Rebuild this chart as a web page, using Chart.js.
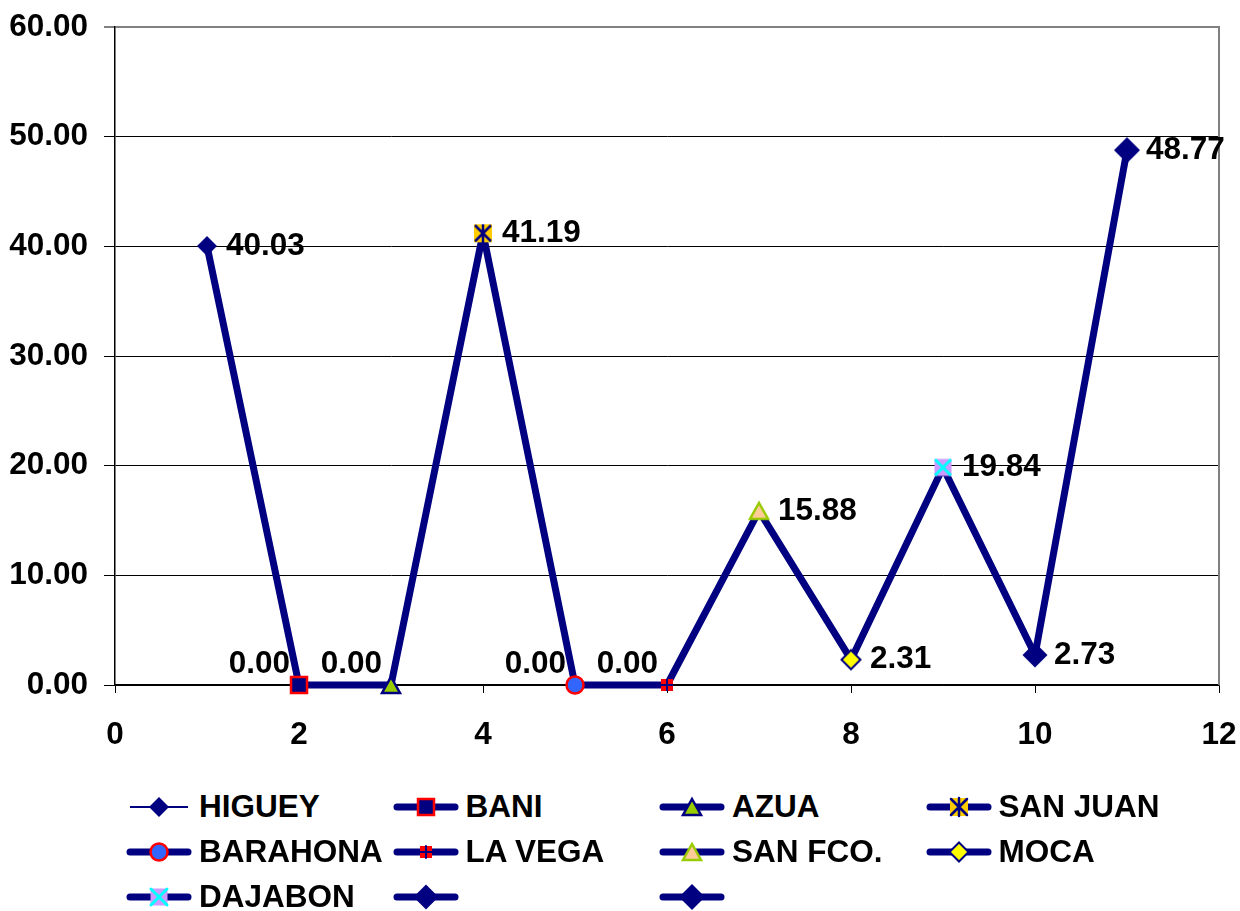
<!DOCTYPE html>
<html>
<head>
<meta charset="utf-8">
<script src="https://cdn.jsdelivr.net/npm/chart.js@4.4.0/dist/chart.umd.min.js"></script>
<style>
body{margin:0;background:#fff;}
#wrap{position:relative;width:1240px;height:911px;overflow:hidden;font-family:"Liberation Sans",Arial,sans-serif;}
#c{position:absolute;left:0;top:0;}
#legend{position:absolute;left:126px;top:784px;display:grid;grid-template-columns:repeat(4,266.5px);grid-auto-rows:45px;}
.item{display:flex;align-items:center;height:45px;font-weight:bold;font-size:31.5px;color:#000;white-space:nowrap;}
.item canvas{margin-right:7px;}
</style>
</head>
<body>
<div id="wrap">
  <canvas id="c" width="1240" height="760"></canvas>
  <div id="legend"></div>
</div>
<script>
// data
const xValues = [1, 2, 3, 4, 5, 6, 7, 8, 9, 10, 11];
const values = [40.03, 0, 0, 41.19, 0, 0, 15.88, 2.31, 19.84, 2.73, 48.77];
const names = ['HIGUEY', 'BANI', 'AZUA', 'SAN JUAN', 'BARAHONA', 'LA VEGA', 'SAN FCO.', 'MOCA', 'DAJABON', '', ''];
const yTicks = [0, 10, 20, 30, 40, 50, 60];
const xTicks = [0, 2, 4, 6, 8, 10, 12];

const NAVY = '#000080';
const FONT = '"Liberation Sans", Arial, sans-serif';

//marker shapes
function diamond(c, x, y, r, fill, stroke, lw) {
    c.beginPath();
    c.moveTo(x, y - r); c.lineTo(x + r, y); c.lineTo(x, y + r); c.lineTo(x - r, y);
    c.closePath();
    c.fillStyle = fill; c.fill();
    if (lw) { c.lineWidth = lw; c.strokeStyle = stroke; c.stroke(); }
}
function square(c, x, y, h, fill, stroke, lw) {
    c.beginPath();
    c.rect(x - h, y - h, 2 * h, 2 * h);
    c.fillStyle = fill; c.fill();
    if (lw) { c.lineWidth = lw; c.strokeStyle = stroke; c.stroke(); }
}
function tri(c, x, y, w, h, fill, stroke, lw) {
    c.beginPath();
    c.moveTo(x, y - h / 2); c.lineTo(x + w / 2, y + h / 2); c.lineTo(x - w / 2, y + h / 2);
    c.closePath();
    c.fillStyle = fill; c.fill();
    c.lineWidth = lw; c.strokeStyle = stroke; c.lineJoin = 'miter'; c.stroke();
}
function circle(c, x, y, r, fill, stroke, lw) {
    c.beginPath();
    c.arc(x, y, r, 0, Math.PI * 2);
    c.fillStyle = fill; c.fill();
    c.lineWidth = lw; c.strokeStyle = stroke; c.stroke();
}
function lines(c, segs, color, lw) {
    c.beginPath();
    segs.forEach(s => { c.moveTo(s[0], s[1]); c.lineTo(s[2], s[3]); });
    c.lineWidth = lw; c.strokeStyle = color; c.stroke();
}

const markers = [
    (c, x, y) => diamond(c, x, y, 10, NAVY),
    (c, x, y) => square(c, x, y, 8, NAVY, '#FF0000', 2.5),
    (c, x, y) => tri(c, x, y, 18, 16, '#99CC00', NAVY, 2.5),
    (c, x, y) => { square(c, x, y, 9, '#FFCC00');
                   lines(c, [[x, y - 9, x, y + 9], [x - 8, y - 8, x + 8, y + 8], [x + 8, y - 8, x - 8, y + 8]], NAVY, 2.5); },
    (c, x, y) => circle(c, x, y, 8.5, '#3366FF', '#FF0000', 2.5),
    (c, x, y) => { square(c, x, y, 6, '#FF0000');
                   lines(c, [[x, y - 6, x, y + 6], [x - 6, y, x + 6, y]], NAVY, 2); },
    (c, x, y) => tri(c, x, y, 18, 16, '#FFCC99', '#99CC00', 2.5),
    (c, x, y) => diamond(c, x, y, 9.5, '#FFFF00', NAVY, 2),
    (c, x, y) => { square(c, x, y, 8.5, '#CC99FF');
                   lines(c, [[x - 8, y - 8, x + 8, y + 8], [x + 8, y - 8, x - 8, y + 8]], '#00FFFF', 3); },
    (c, x, y) => diamond(c, x, y, 12.5, NAVY),
    (c, x, y) => diamond(c, x, y, 13, NAVY)
];

function markerCanvas(i) {
    const cv = document.createElement('canvas');
    cv.width = 34; cv.height = 34;
    markers[i](cv.getContext('2d'), 17, 17);
    return cv;
}
const pointImgs = markers.map((m, i) => markerCanvas(i));

//legend (html, 4 columns)
const legend = document.getElementById('legend');
names.forEach((n, i) => {
    const item = document.createElement('div');
    item.className = 'item';
    const cv = document.createElement('canvas');
    cv.width = 66; cv.height = 34;
    const c = cv.getContext('2d');
    c.beginPath();
    c.moveTo(4, 17); c.lineTo(62, 17);
    c.lineWidth = i == 0 ? 2 : 7;
    c.lineCap = i == 0 ? 'butt' : 'round';
    c.strokeStyle = NAVY;
    c.stroke();
    markers[i](c, 33, 17);
    item.appendChild(cv);
    const sp = document.createElement('span');
    sp.textContent = n;
    item.appendChild(sp);
    legend.appendChild(item);
});

//value labels next to points
const valueLabels = {
    id: 'valueLabels',
    afterDatasetsDraw(chart) {
        const c = chart.ctx;
        const meta = chart.getDatasetMeta(0);
        c.save();
        c.font = 'bold 31.5px ' + FONT;
        c.fillStyle = '#000';
        c.textBaseline = 'middle';
        meta.data.forEach((p, i) => {
            const v = values[i];
            const t = v.toFixed(2);
            if (v === 0) {
                c.textAlign = 'right';
                c.fillText(t, p.x - 9, p.y - 21);
            } else {
                c.textAlign = 'left';
                c.fillText(t, p.x + 19, p.y);
            }
        });
        c.restore();
    }
};

//grey frame on the right side
const rightBorder = {
    id: 'rightBorder',
    beforeDatasetsDraw(chart) {
        const a = chart.chartArea;
        const c = chart.ctx;
        c.save();
        c.beginPath();
        c.moveTo(a.right, a.top - 1);
        c.lineTo(a.right, a.bottom);
        c.lineWidth = 2;
        c.strokeStyle = '#808080';
        c.stroke();
        c.restore();
    }
};

const ctx = document.getElementById('c').getContext('2d');
const myChart = new Chart(ctx, {
    type: 'line',
    data: {
        datasets: [{
            label: 'serie',
            data: xValues.map((x, i) => ({ x: x, y: values[i] })),
            borderColor: NAVY,
            backgroundColor: NAVY,
            borderWidth: 7,
            borderJoinStyle: 'round',
            pointStyle: pointImgs,
            pointRadius: 10,
            tension: 0,
            clip: false
        }]
    },
    options: {
        responsive: false,
        animation: false,
        layout: { padding: { left: 0, right: 21, top: 27, bottom: 0 } },
        plugins: { legend: { display: false }, tooltip: { enabled: false } },
        scales: {
            x: {
                type: 'linear',
                min: 0, max: 12,
                afterBuildTicks: s => { s.ticks = xTicks.map(v => ({ value: v })); },
                afterFit: s => { s.height = 75; s.paddingLeft = 0; s.paddingRight = 0; },
                grid: { drawOnChartArea: false, drawTicks: true, tickLength: 8, color: '#000' },
                border: { color: '#000', width: 1.5 },
                ticks: { color: '#000', padding: 23, font: { family: FONT, size: 31.5, weight: 'bold' } }
            },
            y: {
                min: 0, max: 60,
                afterBuildTicks: s => { s.ticks = yTicks.map(v => ({ value: v })); },
                afterFit: s => { s.width = 115; s.paddingTop = 0; s.paddingBottom = 0; },
                grid: {
                    color: c => (c.tick && c.tick.value == 60) ? '#808080' : '#000',
                    lineWidth: c => (c.tick && c.tick.value == 60) ? 2 : 1,
                    tickLength: 11
                },
                border: { color: '#000', width: 1.5 },
                ticks: {
                    color: '#000', padding: 16,
                    font: { family: FONT, size: 31.5, weight: 'bold' },
                    callback: v => v.toFixed(2)
                }
            }
        }
    },
    plugins: [valueLabels, rightBorder]
});
</script>
</body>
</html>
